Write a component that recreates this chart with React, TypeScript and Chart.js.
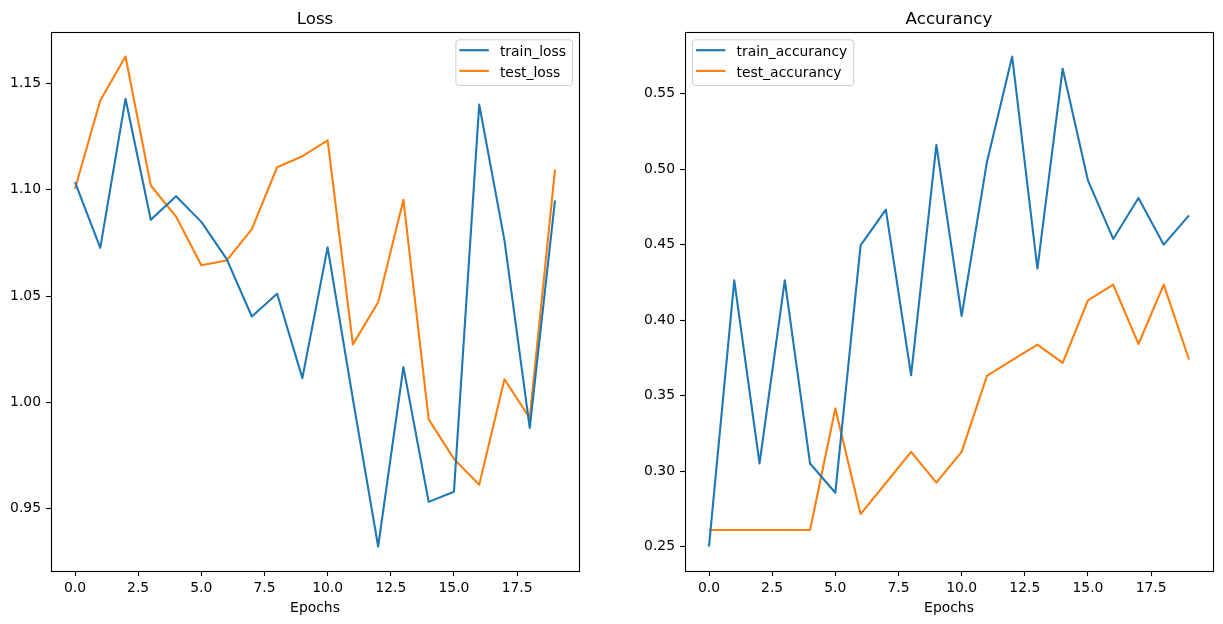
import { useEffect, useRef } from "react";
import { Chart, registerables } from "chart.js";

Chart.register(...registerables);

// Training history, one entry per epoch
const epochs = [0, 1, 2, 3, 4, 5, 6, 7, 8, 9, 10, 11, 12, 13, 14, 15, 16, 17, 18, 19];

const trainLoss = [
  1.1036, 1.0727, 1.1428, 1.0859, 1.097, 1.0849, 1.0675, 1.0404, 1.0511, 1.0114,
  1.0729, 1.0015, 0.9322, 1.0166, 0.9532, 0.958, 1.1401, 1.0762, 0.988, 1.095,
];
const testLoss = [
  1.1005, 1.142, 1.1627, 1.102, 1.0874, 1.0645, 1.0667, 1.0815, 1.1106, 1.1158,
  1.1232, 1.0273, 1.0471, 1.0953, 0.992, 0.9734, 0.9612, 1.0109, 0.9926, 1.1095,
];
const trainAccuracy = [
  0.25, 0.4264, 0.305, 0.4264, 0.305, 0.2856, 0.4496, 0.4732, 0.3635, 0.5162,
  0.4028, 0.5047, 0.5747, 0.4342, 0.5666, 0.4926, 0.4538, 0.4809, 0.45, 0.4694,
];
const testAccuracy = [
  0.2609, 0.2609, 0.2609, 0.2609, 0.2609, 0.3415, 0.2715, 0.2921, 0.3127, 0.2923,
  0.3127, 0.363, 0.3735, 0.3838, 0.3717, 0.4131, 0.4235, 0.3842, 0.4235, 0.3739,
];

const xTickStep = 2.5;
const yTickStep = 0.05;

const BLUE = "#1f77b4";
const ORANGE = "#ff7f0e";
const FONT = '"DejaVu Sans", sans-serif';
const TICK_SIZE = 13.9;
const TITLE_SIZE = 16.7;

const W = 1223;
const H = 624;

type PanelOpts = {
  title: string;
  xlabel: string;
  legendLoc: "upper right" | "upper left";
};

// Axes frame, title, x label and an in-axes legend drawn in matplotlib's manner
const framePlugin = {
  id: "mplFrame",
  afterDatasetsDraw(chart: any) {
    const { ctx, chartArea: ca } = chart;
    ctx.save();
    ctx.strokeStyle = "#000";
    ctx.lineWidth = 1.1;
    ctx.strokeRect(ca.left + 0.5, ca.top + 0.5, ca.right - ca.left, ca.bottom - ca.top);
    ctx.restore();
  },
  afterDraw(chart: any, _args: any, opts: PanelOpts) {
    const { ctx, chartArea: ca } = chart;
    const cx = (ca.left + ca.right) / 2;
    ctx.save();
    ctx.fillStyle = "#000";
    ctx.textAlign = "center";
    ctx.textBaseline = "alphabetic";
    ctx.font = `${TITLE_SIZE}px ${FONT}`;
    ctx.fillText(opts.title, cx, ca.top - 8);
    ctx.font = `${TICK_SIZE}px ${FONT}`;
    ctx.fillText(opts.xlabel, cx, ca.bottom + 40.5);

    // legend
    const items = chart.data.datasets.map((d: any) => ({
      label: d.label as string,
      color: d.borderColor as string,
    }));
    ctx.font = `${TICK_SIZE}px ${FONT}`;
    const tw = Math.max(...items.map((i: any) => ctx.measureText(i.label).width));
    const bw = 44.5 + tw + 6;
    const bh = 45.7;
    const bx = opts.legendLoc === "upper right" ? ca.right - 7 - bw : ca.left + 7;
    const by = ca.top + 7.3;
    ctx.beginPath();
    ctx.roundRect(bx + 0.5, by + 0.5, bw, bh, 3);
    ctx.fillStyle = "rgba(255,255,255,0.8)";
    ctx.fill();
    ctx.strokeStyle = "#cccccc";
    ctx.lineWidth = 1;
    ctx.stroke();
    items.forEach((it: any, i: number) => {
      const cy = by + 10.9 + i * 20.7;
      ctx.beginPath();
      ctx.moveTo(bx + 4, cy);
      ctx.lineTo(bx + 33.5, cy);
      ctx.strokeStyle = it.color;
      ctx.lineWidth = 2.1;
      ctx.stroke();
      ctx.fillStyle = "#000";
      ctx.textAlign = "left";
      ctx.textBaseline = "alphabetic";
      ctx.fillText(it.label, bx + 44.5, cy + 5.8);
    });
    ctx.restore();
  },
};

function makePoints(ys: number[]) {
  return epochs.map((e, i) => ({ x: e, y: ys[i] }));
}

function axisRange(values: number[][]) {
  const all = values.flat();
  const lo = Math.min(...all);
  const hi = Math.max(...all);
  const m = (hi - lo) * 0.05;
  return { min: lo - m, max: hi + m };
}

function buildConfig(
  series: { label: string; data: number[]; color: string }[],
  panel: PanelOpts,
  area: { left: number; right: number; top: number; bottom: number },
  yAxisWidth: number
): any {
  const yr = axisRange(series.map((s) => s.data));
  const xr = axisRange([epochs]);
  const tickFont = { family: FONT, size: TICK_SIZE };
  const tickGrid = {
    display: true,
    drawOnChartArea: false,
    drawTicks: true,
    tickLength: 5,
    tickWidth: 1.1,
    color: "#000",
  };
  return {
    type: "line",
    data: {
      datasets: series.map((s) => ({
        label: s.label,
        data: makePoints(s.data),
        borderColor: s.color,
        backgroundColor: s.color,
        borderWidth: 2.1,
        borderJoinStyle: "round",
        borderCapStyle: "butt",
        pointRadius: 0,
        tension: 0,
        fill: false,
      })),
    },
    options: {
      responsive: false,
      animation: false,
      events: [],
      parsing: false,
      layout: {
        padding: {
          left: area.left - yAxisWidth,
          right: W - area.right,
          top: area.top,
          bottom: 0,
        },
      },
      plugins: {
        legend: { display: false },
        title: { display: false },
        tooltip: { enabled: false },
        mplFrame: panel,
      },
      scales: {
        x: {
          type: "linear",
          min: xr.min,
          max: xr.max,
          grid: tickGrid,
          border: { display: false },
          ticks: {
            stepSize: xTickStep,
            includeBounds: false,
            padding: 4,
            color: "#000",
            font: tickFont,
            maxRotation: 0,
            autoSkip: false,
            callback: (v: number) => v.toFixed(1),
          },
          afterFit: (s: any) => {
            s.height = H - area.bottom;
          },
        },
        y: {
          type: "linear",
          min: yr.min,
          max: yr.max,
          grid: tickGrid,
          border: { display: false },
          ticks: {
            stepSize: yTickStep,
            includeBounds: false,
            padding: 5,
            color: "#000",
            font: tickFont,
            autoSkip: false,
            callback: (v: number) => v.toFixed(2),
          },
          afterFit: (s: any) => {
            s.width = yAxisWidth;
          },
        },
      },
    },
    plugins: [framePlugin],
  };
}

function Panel({ config }: { config: any }) {
  const ref = useRef<HTMLCanvasElement>(null);
  useEffect(() => {
    if (!ref.current) return;
    const chart = new Chart(ref.current, config);
    return () => chart.destroy();
  }, [config]);
  return (
    <canvas
      ref={ref}
      width={W}
      height={H}
      style={{ position: "absolute", left: 0, top: 0, width: W, height: H }}
    />
  );
}

const lossConfig = buildConfig(
  [
    { label: "train_loss", data: trainLoss, color: BLUE },
    { label: "test_loss", data: testLoss, color: ORANGE },
  ],
  { title: "Loss", xlabel: "Epochs", legendLoc: "upper right" },
  { left: 51, right: 579, top: 32, bottom: 571 },
  51
);

const accuracyConfig = buildConfig(
  [
    { label: "train_accurancy", data: trainAccuracy, color: BLUE },
    { label: "test_accurancy", data: testAccuracy, color: ORANGE },
  ],
  { title: "Accurancy", xlabel: "Epochs", legendLoc: "upper left" },
  { left: 685, right: 1213, top: 32, bottom: 571 },
  60
);

export default function App() {
  return (
    <div
      style={{
        position: "fixed",
        left: 0,
        top: 0,
        width: W,
        height: H,
        background: "#fff",
        overflow: "hidden",
      }}
    >
      <Panel config={lossConfig} />
      <Panel config={accuracyConfig} />
    </div>
  );
}
